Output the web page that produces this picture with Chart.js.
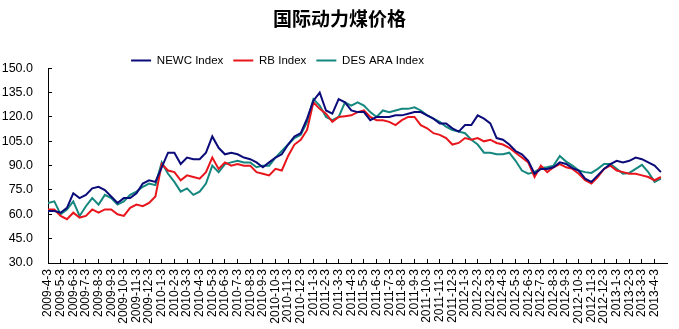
<!DOCTYPE html>
<html>
<head>
<meta charset="utf-8">
<script src="https://cdn.jsdelivr.net/npm/chart.js@4.4.0/dist/chart.umd.min.js"></script>
<style>
  html, body { margin: 0; padding: 0; background: #fff; }
</style>
</head>
<body>
<canvas id="myChart" width="679" height="329"></canvas>
<script>
// month tick labels (one tick per month)
const monthLabels = [
  '2009-4-3', '2009-5-3', '2009-6-3', '2009-7-3', '2009-8-3', '2009-9-3', '2009-10-3', '2009-11-3', '2009-12-3',
  '2010-1-3', '2010-2-3', '2010-3-3', '2010-4-3', '2010-5-3', '2010-6-3', '2010-7-3', '2010-8-3', '2010-9-3',
  '2010-10-3', '2010-11-3', '2010-12-3',
  '2011-1-3', '2011-2-3', '2011-3-3', '2011-4-3', '2011-5-3', '2011-6-3', '2011-7-3', '2011-8-3', '2011-9-3',
  '2011-10-3', '2011-11-3', '2011-12-3',
  '2012-1-3', '2012-2-3', '2012-3-3', '2012-4-3', '2012-5-3', '2012-6-3', '2012-7-3', '2012-8-3', '2012-9-3',
  '2012-10-3', '2012-11-3', '2012-12-3',
  '2013-1-3', '2013-2-3', '2013-3-3', '2013-4-3'
];

// two readings per month, starting 2009-4-3
const pointsPerMonth = 2;

const newcIndex = [
  62, 62, 61, 64, 73, 70, 72, 76, 77, 75,
  71, 67, 70, 70, 73, 79, 81, 80, 89, 98,
  98, 91, 95, 94, 94, 98, 108, 101, 97, 98,
  97, 95, 94, 92, 89, 92, 95, 97, 103, 108,
  110, 119, 130, 135, 124, 122, 131, 129, 124, 123,
  123, 118, 120, 120, 120, 121, 121, 122, 123, 123,
  121, 119, 116, 116, 113, 111, 115, 115, 121, 119,
  116, 107, 106, 103, 99, 97, 93, 85, 88, 88,
  89, 92, 91, 88.5, 87, 82, 80, 84, 88, 91,
  93, 92, 93, 95, 94, 92, 90, 86
];

const rbIndex = [
  63, 63, 59, 57, 61, 58, 59, 63, 61, 63,
  63, 60, 59, 64, 66, 65, 67, 71, 91, 87,
  86, 81, 84, 83, 82, 86, 95, 88, 92, 90,
  91, 90, 90, 86, 85, 84, 88, 87, 96, 103,
  106, 112, 129, 125, 122, 117, 120, 120.5, 121, 123,
  124, 120, 118, 118, 117, 115, 118, 120, 120, 115,
  113, 110, 109, 107, 103, 104, 107, 106, 107, 105,
  106, 104, 103, 101, 98, 95, 92, 83, 90, 86,
  89, 91, 89, 88, 85, 81, 79, 83, 88, 90,
  87, 86, 85, 85, 84, 83, 81, 83
];

const desAraIndex = [
  67, 68, 60, 63, 68, 59, 65, 70, 66, 72,
  70, 66, 68, 72, 74, 77, 79, 78, 92, 85,
  80, 74, 76, 72, 74, 79, 90, 86, 91, 92,
  93, 92, 92, 89, 90, 90, 95, 99, 103, 107,
  109, 117, 131, 127, 120, 118, 120, 129, 127, 129,
  127, 123, 120, 124, 123, 124, 125, 125, 126, 124,
  121, 119, 117, 114, 112, 111, 110, 106, 103, 98,
  98, 97, 97, 98, 93, 87, 85, 86, 88.5, 89,
  90, 96, 92.5, 90, 87, 86, 85.5, 88, 91, 91,
  88, 85, 85.5, 88, 90.5, 86, 80, 82
];

const yMin = 30, yMax = 150, yStep = 15;

function toPoints(values) {
  return values.map((v, i) => ({ x: i / pointsPerMonth, y: v }));
}

// the legend in the original sits left of centre and close to the plot
const legendShift = {
  id: 'legendShift',
  afterLayout(chart) {
    const lg = chart.legend;
    lg.left -= 62; lg.right -= 62;
    lg.top += 8; lg.bottom += 8;
  }
};

Chart.defaults.color = '#000';
Chart.defaults.font.family = '"Liberation Sans", Arial, sans-serif';

const ctx = document.getElementById('myChart').getContext('2d');
new Chart(ctx, {
  type: 'line',
  data: {
    datasets: [{
      label: 'NEWC Index',
      data: toPoints(newcIndex),
      borderColor: '#0b0b7a',
      borderWidth: 2
    }, {
      label: 'RB Index',
      data: toPoints(rbIndex),
      borderColor: '#e8161c',
      borderWidth: 2
    }, {
      label: 'DES ARA Index',
      data: toPoints(desAraIndex),
      borderColor: '#15877f',
      borderWidth: 2
    }]
  },
  options: {
    responsive: false,
    animation: false,
    devicePixelRatio: 1,
    elements: { point: { radius: 0 }, line: { tension: 0 } },
    layout: { padding: 0 },
    plugins: {
      title: {
        display: true,
        text: '国际动力煤价格',
        color: '#000',
        font: { family: '"Noto Sans CJK SC"', size: 19, weight: 'bold' },
        padding: { top: 7, bottom: 7 }
      },
      legend: {
        position: 'top',
        labels: {
          usePointStyle: true,
          pointStyle: 'line',
          pointStyleWidth: 20,
          padding: 10,
          font: { size: 11.5 }
        }
      },
      tooltip: { enabled: false }
    },
    scales: {
      x: {
        type: 'linear',
        min: 0,
        max: monthLabels.length,
        grid: { drawOnChartArea: false, tickLength: -4, color: '#000' },
        border: { color: '#000' },
        ticks: {
          stepSize: 1,
          autoSkip: false,
          maxRotation: 90,
          minRotation: 90,
          padding: 10,
          font: { size: 12 },
          callback: (v) => monthLabels[v] ?? null
        },
        afterFit: (scale) => { scale.height = 66; }
      },
      y: {
        min: yMin,
        max: yMax,
        grid: { drawOnChartArea: false, tickLength: -4, color: '#000' },
        border: { color: '#000' },
        ticks: {
          stepSize: yStep,
          padding: 19,
          font: { size: 12.5 },
          callback: (v) => v.toFixed(1)
        },
        afterFit: (scale) => { scale.width = 48; }
      }
    }
  },
  plugins: [legendShift]
});
</script>
</body>
</html>
